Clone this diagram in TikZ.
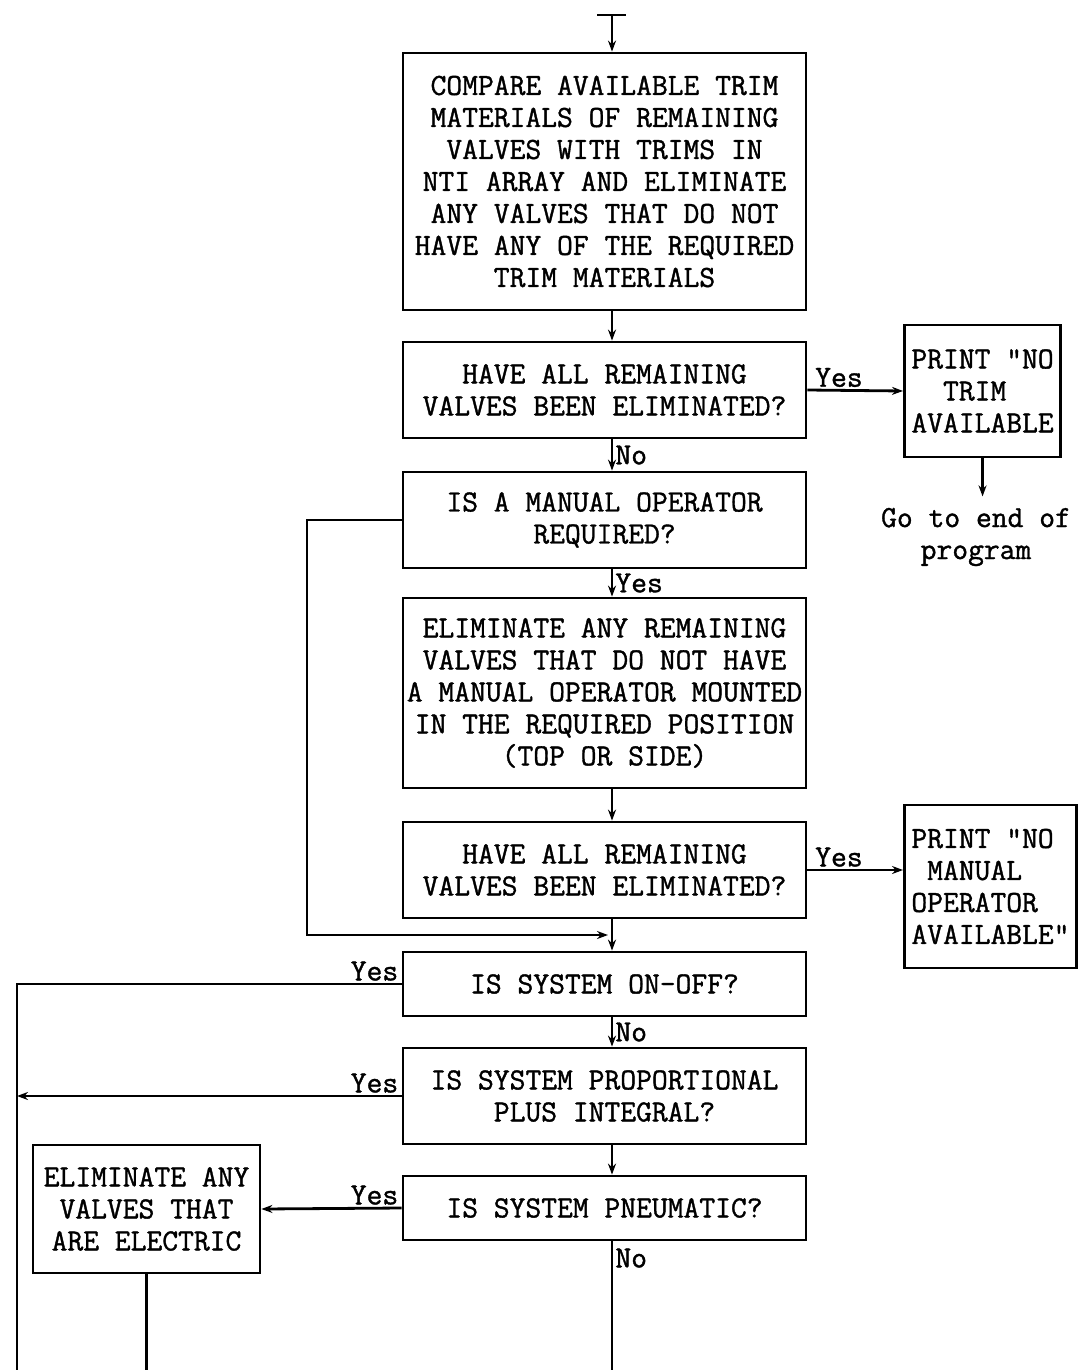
\documentclass[tikz,border=0pt]{standalone}
\usepackage{fontspec}
\newfontfamily\flowfont[FakeBold=1.2]{Latin Modern Mono}
\usetikzlibrary{arrows.meta}

\begin{document}
\begin{tikzpicture}[x=1pt, y=-1pt, line width=2.8pt,
  font=\flowfont\fontsize{30.7}{32}\selectfont,
  box/.style={draw, align=center, inner sep=0pt, minimum width=403pt},
  printbox/.style={draw, align=left, inner xsep=7pt, inner ysep=0pt, anchor=west},
  arr/.style={-{Stealth[length=11pt,width=8pt]}},
  lbl/.style={inner sep=2pt}]
  % Page frame
  \fill[white] (0,0) rectangle (1078,1370);
  \useasboundingbox (0,0) rectangle (1078,1370);
  \coordinate (spine) at (612,0);
  \coordinate (bottom) at (0,1370);
  \coordinate (leftbus) at (17,1370);
  \coordinate (entry) at (612,15);

  % Boxes of the main column
  \node[box, minimum height=257pt] (compare) at (604.5,181.5)
    {COMPARE AVAILABLE TRIM\\MATERIALS OF REMAINING\\VALVES WITH TRIMS IN\\NTI ARRAY AND ELIMINATE\\ANY VALVES THAT DO NOT\\HAVE ANY OF THE REQUIRED\\TRIM MATERIALS};
  \node[box, minimum height=96pt] (trimgone) at (604.5,390)
    {HAVE ALL REMAINING\\VALVES BEEN ELIMINATED?};
  \node[box, minimum height=96pt] (manual) at (604.5,520)
    {IS A MANUAL OPERATOR\\REQUIRED?};
  \node[box, minimum height=190pt] (mounted) at (604.5,693)
    {ELIMINATE ANY REMAINING\\VALVES THAT DO NOT HAVE\\A MANUAL OPERATOR MOUNTED\\IN THE REQUIRED POSITION\\(TOP OR SIDE)};
  \node[box, minimum height=96pt] (opgone) at (604.5,870)
    {HAVE ALL REMAINING\\VALVES BEEN ELIMINATED?};
  \node[box, minimum height=64pt] (onoff) at (604.5,984)
    {IS SYSTEM ON-OFF?};
  \node[box, minimum height=96pt] (propint) at (604.5,1096)
    {IS SYSTEM PROPORTIONAL\\PLUS INTEGRAL?};
  \node[box, minimum height=64pt] (pneu) at (604.5,1208)
    {IS SYSTEM PNEUMATIC?};

  % Side boxes
  \node[printbox, minimum height=132pt] (notrim) at (903,391)
    {PRINT "NO\\\ \ TRIM\\AVAILABLE};
  \node[align=center] (goend) at (976,537) {Go to end of\\program};
  \node[printbox, minimum height=163pt] (noop) at (903,886.5)
    {PRINT "NO\\\ MANUAL\\OPERATOR\\AVAILABLE"};
  \node[box, minimum width=227pt, minimum height=128pt] (electric) at (146.5,1209)
    {ELIMINATE ANY\\VALVES THAT\\ARE ELECTRIC};

  % Entry
  \draw ([xshift=-15pt]entry) -- ([xshift=14pt]entry);
  \draw[arr] (entry) -- (compare.north -| spine);

  % Main column arrows
  \draw[arr] (compare.south -| spine) -- (trimgone.north -| spine);
  \draw[arr] (trimgone.south -| spine) -- node[right, lbl] (no1) {No} (manual.north -| spine);
  \draw[arr] (manual.south -| spine) -- node[right, lbl] (yes2) {Yes} (mounted.north -| spine);
  \draw[arr] (mounted.south -| spine) -- (opgone.north -| spine);
  \draw[arr] (opgone.south -| spine) -- (onoff.north -| spine);
  \draw[arr] (onoff.south -| spine) -- node[right, lbl] (no2) {No} (propint.north -| spine);
  \draw[arr] (propint.south -| spine) -- (pneu.north -| spine);
  \draw (pneu.south -| spine) -- node[pos=0.13, right, lbl] (no3) {No} (spine |- bottom);

  % Yes branches to the right
  \draw[arr] (trimgone.east) -- node[pos=0.33, above, lbl] (yes1) {Yes} (notrim.west);
  \draw[arr] (notrim.south) -- ++(0,38) coordinate (goto);
  \draw[arr] (opgone.east) -- node[pos=0.33, above, lbl] (yes3) {Yes} (opgone.east -| noop.west);

  % Loop around the manual operator part
  \coordinate (loop) at (307,935);
  \coordinate (merge) at (608,935);
  \draw[arr] (manual.west) -| (loop) -- (merge);

  % Yes branches to the left
  \draw (onoff.west) -- node[pos=0, above left, lbl] (yes4) {Yes} (onoff.west -| leftbus) -- (leftbus);
  \draw[arr] (propint.west) -- node[pos=0, above left, lbl] (yes5) {Yes} (propint.west -| leftbus);
  \draw[arr] (pneu.west) -- node[pos=0, above left, lbl] (yes6) {Yes} (electric.east);
  \draw (electric.south) -- (electric.south |- bottom);
\end{tikzpicture}
\end{document}
